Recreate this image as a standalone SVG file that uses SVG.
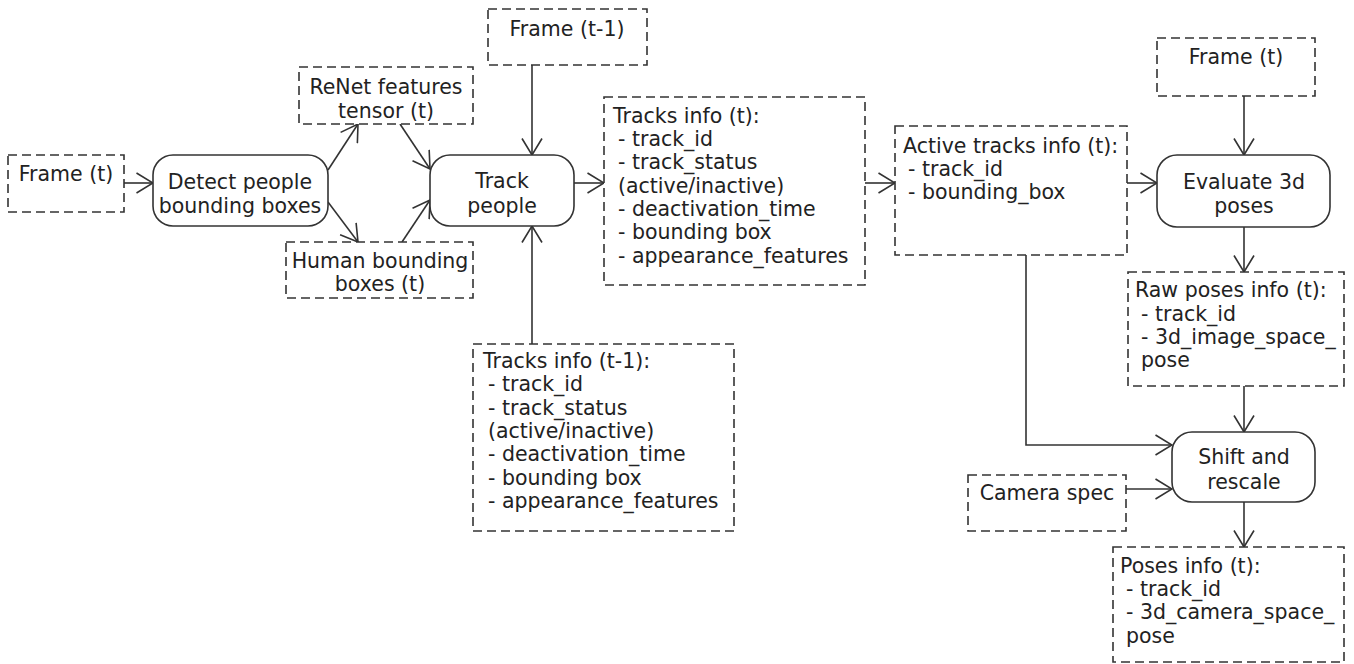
<svg xmlns="http://www.w3.org/2000/svg" width="1354" height="664" viewBox="0 0 1354 664">
<style>
.data{fill:#fff;stroke:#333;stroke-width:1.6;stroke-dasharray:9 5}
.proc{fill:#fff;stroke:#333;stroke-width:1.6}
text{font-family:"DejaVu Sans",sans-serif;font-size:20.5px;fill:#222}
.c{text-anchor:middle}
.edge{fill:none;stroke:#333;stroke-width:1.6;marker-end:url(#arr)}
</style>
<defs>
<marker id="arr" markerUnits="userSpaceOnUse" viewBox="0 0 18 22" refX="17" refY="11" markerWidth="18" markerHeight="22" orient="auto">
<path d="M0.5,1 L17,11 L0.5,21" fill="none" stroke="#333" stroke-width="1.6"/>
</marker>
</defs>
<rect width="1354" height="664" fill="#fff"/>
<g id="connectors">
<path class="edge" d="M124,183 H153"/>
<path class="edge" d="M328,170 L358,124"/>
<path class="edge" d="M328,202 L358,242"/>
<path class="edge" d="M400,124 L430,169"/>
<path class="edge" d="M402,242 L430,200"/>
<path class="edge" d="M532,65 V155"/>
<path class="edge" d="M532,344 V226"/>
<path class="edge" d="M574,183 H604"/>
<path class="edge" d="M865,183 H895"/>
<path class="edge" d="M1244,96 V155"/>
<path class="edge" d="M1127,183 H1157"/>
<path class="edge" d="M1244,227 V272"/>
<path class="edge" d="M1244,386 V432"/>
<path class="edge" d="M1026,255 V445 H1172"/>
<path class="edge" d="M1126,489 H1172"/>
<path class="edge" d="M1244,502 V547"/>
</g>
<g id="frame_t_in">
<rect class="data" x="8" y="155" width="116" height="57"/>
<text class="c" x="66" y="181">Frame (t)</text>
</g>
<g id="detect">
<rect class="proc" x="153" y="155" width="175" height="71" rx="20"/>
<text class="c" x="240" y="189">Detect people</text>
<text class="c" x="240" y="213">bounding boxes</text>
</g>
<g id="renet">
<rect class="data" x="299" y="67" width="174" height="57"/>
<text class="c" x="386" y="94">ReNet features</text>
<text class="c" x="386" y="118">tensor (t)</text>
</g>
<g id="human_boxes">
<rect class="data" x="286" y="242" width="187" height="56"/>
<text class="c" x="380" y="268">Human bounding</text>
<text class="c" x="380" y="291">boxes (t)</text>
</g>
<g id="frame_t_minus_1">
<rect class="data" x="488" y="9" width="159" height="56"/>
<text class="c" x="567" y="36">Frame (t-1)</text>
</g>
<g id="track_people">
<rect class="proc" x="430" y="155" width="144" height="71" rx="20"/>
<text class="c" x="502" y="188">Track</text>
<text class="c" x="502" y="213">people</text>
</g>
<g id="tracks_info_t">
<rect class="data" x="604" y="97" width="261" height="188"/>
<text x="613" y="123">Tracks info (t):</text>
<text x="618" y="146">- track_id</text>
<text x="618" y="169">- track_status</text>
<text x="618" y="193">(active/inactive)</text>
<text x="618" y="216">- deactivation_time</text>
<text x="618" y="239">- bounding box</text>
<text x="618" y="263">- appearance_features</text>
</g>
<g id="tracks_info_t_minus_1">
<rect class="data" x="473" y="344" width="261" height="187"/>
<text x="483" y="368">Tracks info (t-1):</text>
<text x="488" y="391">- track_id</text>
<text x="488" y="415">- track_status</text>
<text x="488" y="438">(active/inactive)</text>
<text x="488" y="461">- deactivation_time</text>
<text x="488" y="485">- bounding box</text>
<text x="488" y="508">- appearance_features</text>
</g>
<g id="active_tracks">
<rect class="data" x="895" y="126" width="232" height="129"/>
<text x="903" y="153">Active tracks info (t):</text>
<text x="908" y="176">- track_id</text>
<text x="908" y="199">- bounding_box</text>
</g>
<g id="frame_t_right">
<rect class="data" x="1157" y="38" width="158" height="58"/>
<text class="c" x="1236" y="64">Frame (t)</text>
</g>
<g id="evaluate">
<rect class="proc" x="1157" y="155" width="173" height="72" rx="20"/>
<text class="c" x="1244" y="189">Evaluate 3d</text>
<text class="c" x="1244" y="213">poses</text>
</g>
<g id="raw_poses">
<rect class="data" x="1128" y="272" width="216" height="114"/>
<text x="1135" y="297">Raw poses info (t):</text>
<text x="1141" y="321">- track_id</text>
<text x="1141" y="344">- 3d_image_space_</text>
<text x="1141" y="367">pose</text>
</g>
<g id="shift_rescale">
<rect class="proc" x="1172" y="432" width="143" height="70" rx="20"/>
<text class="c" x="1244" y="464">Shift and</text>
<text class="c" x="1244" y="489">rescale</text>
</g>
<g id="camera_spec">
<rect class="data" x="968" y="475" width="158" height="56"/>
<text class="c" x="1047" y="500">Camera spec</text>
</g>
<g id="poses_info">
<rect class="data" x="1113" y="547" width="231" height="115"/>
<text x="1120" y="573">Poses info (t):</text>
<text x="1126" y="596">- track_id</text>
<text x="1126" y="619">- 3d_camera_space_</text>
<text x="1126" y="643">pose</text>
</g>
</svg>
